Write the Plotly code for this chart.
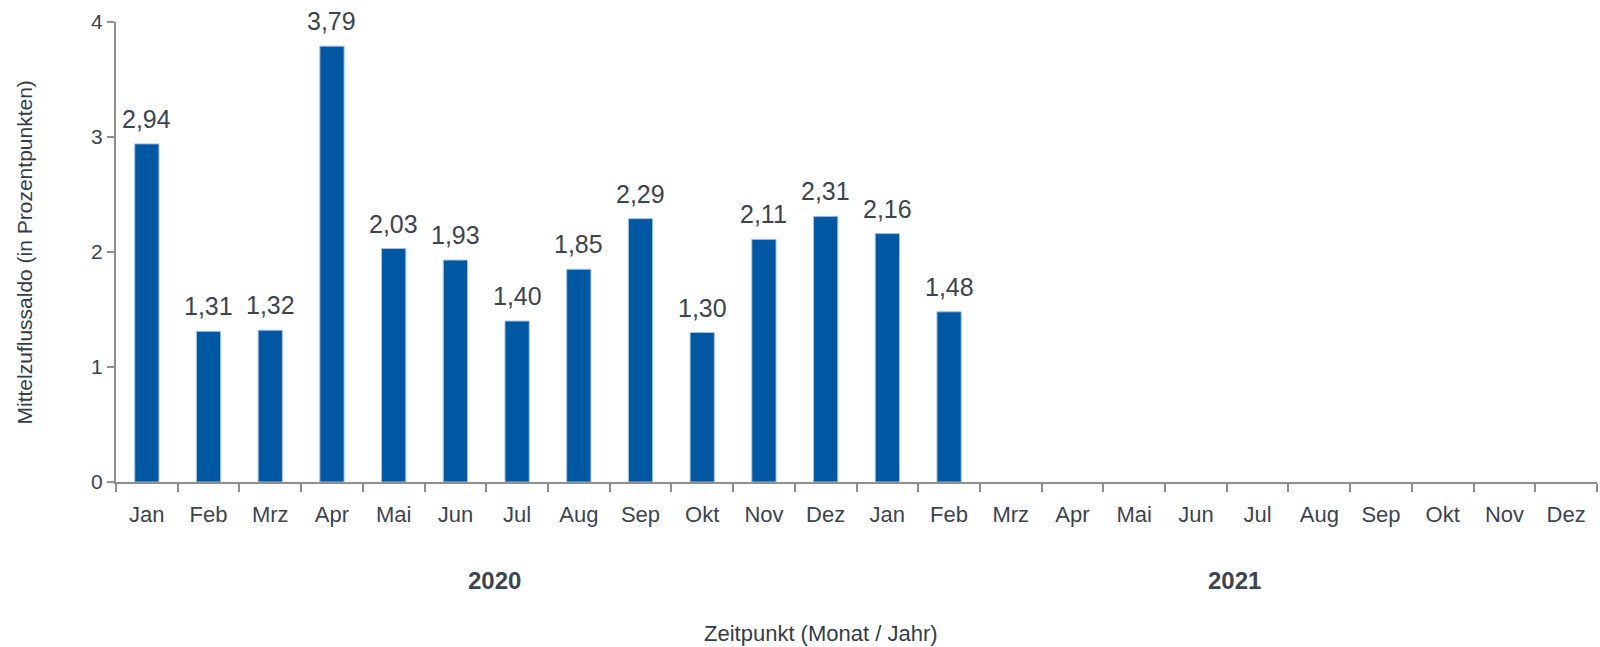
import plotly.graph_objects as go

months = ["Jan", "Feb", "Mrz", "Apr", "Mai", "Jun", "Jul", "Aug", "Sep", "Okt", "Nov", "Dez"]
years = ["2020", "2021"]
values = [2.94, 1.31, 1.32, 3.79, 2.03, 1.93, 1.40, 1.85, 2.29, 1.30, 2.11, 2.31, 2.16, 1.48]
y_ticks = [0, 1, 2, 3, 4]
x_title = "Zeitpunkt (Monat / Jahr)"
y_title = "Mittelzuflussaldo (in Prozentpunkten)"

categories = [f"{m} {y}" for y in years for m in months]
tick_text = [m for y in years for m in months]
bar_x = categories[:len(values)]

FONT = "Liberation Sans, Arial, sans-serif"
TXT = "#3b4550"
AX = "#8f8f8f"
BLUE = "#0057a2"

fig = go.Figure()
fig.add_trace(go.Bar(
    x=bar_x, y=values,
    marker=dict(color=BLUE, line=dict(color="#9fc3e6", width=1)),
    hoverinfo="x+y",
))

# value labels
for cx, v in zip(bar_x, values):
    fig.add_annotation(x=cx, y=v, xref="x", yref="y", text=f"{v:.2f}".replace(".", ","),
                       showarrow=False, yanchor="bottom", yshift=9,
                       font=dict(family=FONT, size=25, color=TXT))

# year group labels
n = len(months)
for i, yr in enumerate(years):
    center = i * n + (n - 1) / 2
    fig.add_annotation(x=center, y=0, xref="x", yref="paper", text=f"<b>{yr}</b>",
                       showarrow=False, yanchor="middle", yshift=-98, xshift=8,
                       font=dict(family=FONT, size=24, color=TXT))

fig.add_annotation(x=0.476, y=-0.329, xref="paper", yref="paper", text=x_title,
                   showarrow=False, xanchor="center", yanchor="middle",
                   font=dict(family=FONT, size=22, color="#333d47"))
fig.add_annotation(x=-0.0618, y=0.5, xref="paper", yref="paper", text=y_title,
                   textangle=-90, showarrow=False, xanchor="center", yanchor="middle",
                   font=dict(family=FONT, size=21, color="#333d47"))

fig.update_layout(
    width=1600, height=647,
    margin=dict(l=116, r=3, t=22, b=165, autoexpand=False),
    paper_bgcolor="white", plot_bgcolor="white",
    bargap=0.607, showlegend=False,
    font=dict(family=FONT, size=21, color=TXT),
)
fig.update_xaxes(
    type="category", categoryorder="array", categoryarray=categories,
    range=[-0.5, len(categories) - 0.5],
    tickmode="array", tickvals=categories, ticktext=tick_text,
    tickson="boundaries", ticks="outside", ticklen=8, tickwidth=2, tickcolor=AX,
    ticklabelstandoff=12,
    showline=True, linecolor=AX, linewidth=2, showgrid=False,
    tickfont=dict(family=FONT, size=22, color=TXT), automargin=False,
)
fig.update_yaxes(
    range=[0, 4], tickvals=y_ticks, ticktext=[str(t) for t in y_ticks],
    ticks="outside", ticklen=7, tickwidth=2, tickcolor=AX,
    ticklabelstandoff=0,
    showline=True, linecolor=AX, linewidth=2, showgrid=False, zeroline=False,
    tickfont=dict(family=FONT, size=21, color=TXT), automargin=False,
)

fig.write_html("out.html", config={"displayModeBar": False},
               post_script="document.body.style.margin='0px';document.body.style.overflow='hidden';")
